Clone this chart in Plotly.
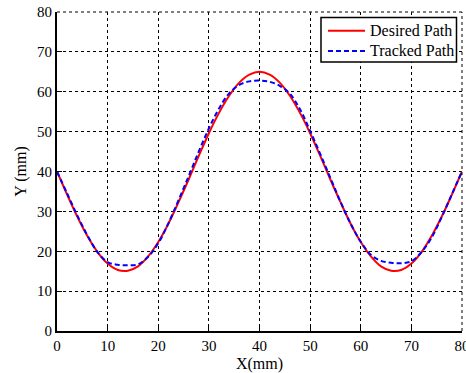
import plotly.graph_objects as go

x_vals = [0, 2, 4, 6, 8, 10, 12, 14, 16, 18, 20, 22, 24, 26, 28, 30, 32, 34, 36, 38, 40,
          42, 44, 46, 48, 50, 52, 54, 56, 58, 60, 62, 64, 66, 68, 70, 72, 74, 76, 78, 80]
desired_y = [40, 34.2, 28.7, 23.8, 19.8, 16.9, 15.3, 15.1, 16.2, 18.7, 22.3, 26.9, 32.3, 38.0,
             43.9, 49.6, 54.7, 59.0, 62.3, 64.3, 65.0, 64.3, 62.3, 59.0, 54.7, 49.6, 43.9,
             38.0, 32.3, 26.9, 22.3, 18.7, 16.2, 15.1, 15.3, 16.9, 19.8, 23.8, 28.7, 34.2, 40]
tracked_y = [40, 34.5, 29.0, 24.0, 19.8, 17.3, 16.6, 16.5, 16.7, 18.6, 22.0, 27.0, 32.8, 38.8,
             45.0, 50.8, 55.8, 59.6, 61.7, 62.6, 62.8, 62.5, 61.5, 59.5, 55.6, 50.2, 44.4,
             38.4, 32.4, 26.9, 22.4, 19.1, 17.6, 17.1, 17.0, 17.5, 19.8, 23.4, 28.6, 34.3, 40]

x_ticks = [0, 10, 20, 30, 40, 50, 60, 70, 80]
y_ticks = [0, 10, 20, 30, 40, 50, 60, 70, 80]
series_names = ["Desired Path", "Tracked Path"]

FONT = "Liberation Serif"
W, H = 466, 373
ML, MR, MT, MB = 57, 4, 12, 42
PW, PH = W - ML - MR, H - MT - MB


def px(xp):
    return (xp - ML) / PW


def py(yp):
    return (H - MB - yp) / PH


fig = go.Figure()
fig.add_trace(go.Scatter(x=x_vals, y=desired_y, mode="lines", name=series_names[0],
                         line=dict(color="#ff0000", width=2, shape="spline"), showlegend=False))
fig.add_trace(go.Scatter(x=x_vals, y=tracked_y, mode="lines", name=series_names[1],
                         line=dict(color="#0000ff", width=2, dash="5px,3px", shape="spline"),
                         showlegend=False))

axis_common = dict(
    showgrid=True, gridcolor="black", gridwidth=1, griddash="3px,3px",
    showline=True, linecolor="black", linewidth=2,
    ticks="inside", ticklen=5, tickcolor="black", tickwidth=1,
    zeroline=False, ticklabeloverflow="allow", automargin=False,
    tickfont=dict(family=FONT, size=15, color="black"),
)

fig.update_xaxes(range=[0, 80], tickvals=x_ticks, ticktext=[str(v) for v in x_ticks],
                 title=dict(text="X(mm)", font=dict(family=FONT, size=16, color="black"), standoff=6),
                 **axis_common)
fig.update_yaxes(range=[0, 80], tickvals=y_ticks, ticktext=[str(v) for v in y_ticks],
                 title=dict(text="Y (mm)", font=dict(family=FONT, size=16, color="black"), standoff=6),
                 **axis_common)

# dotted top and right border
fig.add_shape(type="line", xref="paper", yref="paper", x0=0, x1=1, y0=1, y1=1,
              line=dict(color="black", width=1, dash="3px,3px"))
fig.add_shape(type="line", xref="paper", yref="paper", x0=1, x1=1, y0=0, y1=1,
              line=dict(color="black", width=1, dash="3px,3px"))

# legend box
fig.add_shape(type="rect", xref="paper", yref="paper",
              x0=px(321), x1=px(456.5), y0=py(62), y1=py(17.5),
              line=dict(color="black", width=1.5), fillcolor="white", layer="above")
legend_styles = [dict(color="#ff0000", width=2), dict(color="#0000ff", width=2, dash="5px,3px")]
legend_rows = [30.7, 51]
for name, style, yr in zip(series_names, legend_styles, legend_rows):
    fig.add_shape(type="line", xref="paper", yref="paper",
                  x0=px(328), x1=px(365), y0=py(yr), y1=py(yr),
                  line=style, layer="above")
    fig.add_annotation(xref="paper", yref="paper", x=px(368), y=py(yr),
                       xanchor="left", yanchor="middle", text=name, showarrow=False,
                       font=dict(family=FONT, size=16, color="black"))

fig.update_layout(
    width=W, height=H,
    margin=dict(l=ML, r=MR, t=MT, b=MB),
    paper_bgcolor="white", plot_bgcolor="white",
    font=dict(family=FONT, size=15, color="black"),
    showlegend=False,
)

fig.write_html("out.html")
